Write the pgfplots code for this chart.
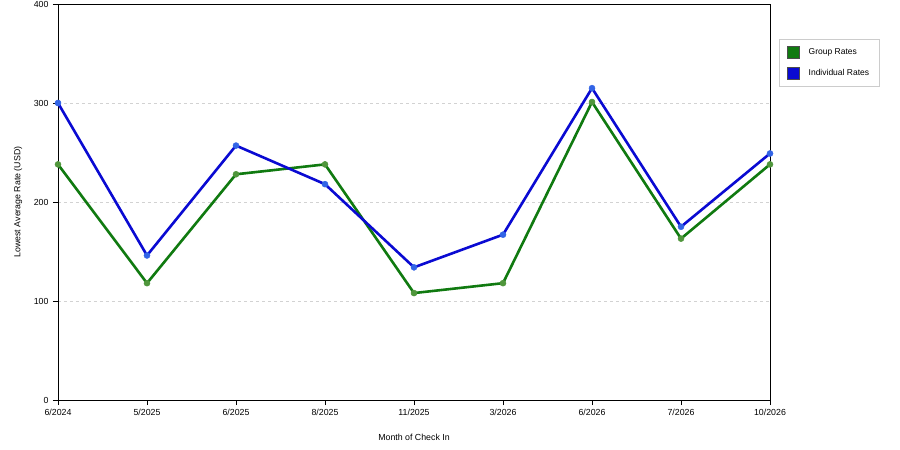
\documentclass[border=0pt]{standalone}
\usepackage{pgfplots}
\pgfplotsset{compat=1.18}
\usepackage{fontspec}
\setmainfont{Liberation Sans}

\definecolor{grpline}{RGB}{16,122,16}
\definecolor{grpmark}{RGB}{80,150,60}
\definecolor{indline}{RGB}{10,10,210}
\definecolor{indmark}{RGB}{50,100,230}

\begin{document}
\begin{tikzpicture}
\useasboundingbox (-58pt,-50pt) rectangle (842pt,400pt);
\begin{axis}[
    at={(0pt,0pt)}, anchor=south west,
    scale only axis,
    width=712pt, height=396pt,
    xmin=0, xmax=8, ymin=0, ymax=400,
    xtick={0,...,8},
    xticklabels={6/2024,5/2025,6/2025,8/2025,11/2025,3/2026,6/2026,7/2026,10/2026},
    ytick={0,100,200,300,400},
    xtick pos=bottom, ytick pos=left,
    tick align=outside,
    major tick length=5pt,
    tick style={black, line width=0.6pt},
    axis line style={black, line width=0.6pt},
    ymajorgrids,
    grid style={dashed, gray!35, line width=0.5pt},
    font=\fontsize{8.8}{10}\selectfont,
    /pgf/number format/assume math mode=true,
    xticklabel style={yshift=-1pt},
    yticklabel style={xshift=-1pt},
    every axis x label/.style={at={(axis description cs:0.5,0)}, yshift=-37pt, anchor=center},
    every axis y label/.style={at={(axis description cs:0,0.5)}, xshift=-40pt, rotate=90, anchor=center},
    xlabel={Month of Check In},
    ylabel={Lowest Average Rate (USD)},
    legend style={at={(1.0126,0.9116)}, anchor=north west, draw=gray!40,
        font=\fontsize{8.5}{10}\selectfont, row sep=8pt, inner xsep=8pt, inner ysep=7pt,
        cells={anchor=west}},
]
\addplot[color=grpline, line width=2.6pt, mark=*, mark size=3pt,
    mark options={fill=grpmark, draw=grpmark, line width=0.5pt},
    legend image code/.code={\draw[draw=black!70, fill=grpline, line width=0.4pt] (0pt,-6pt) rectangle (12pt,6pt); \path (18pt,0pt);}]
coordinates {(0,238) (1,118) (2,228) (3,238) (4,108) (5,118) (6,301) (7,163) (8,238)};
\addlegendentry{Group Rates}
\addplot[color=indline, line width=2.6pt, mark=*, mark size=3pt,
    mark options={fill=indmark, draw=indmark, line width=0.5pt},
    legend image code/.code={\draw[draw=black!70, fill=indline, line width=0.4pt] (0pt,-6pt) rectangle (12pt,6pt); \path (18pt,0pt);}]
coordinates {(0,300) (1,146) (2,257) (3,218) (4,134) (5,167) (6,315) (7,175) (8,249)};
\addlegendentry{Individual Rates}
\end{axis}
\end{tikzpicture}
\end{document}
